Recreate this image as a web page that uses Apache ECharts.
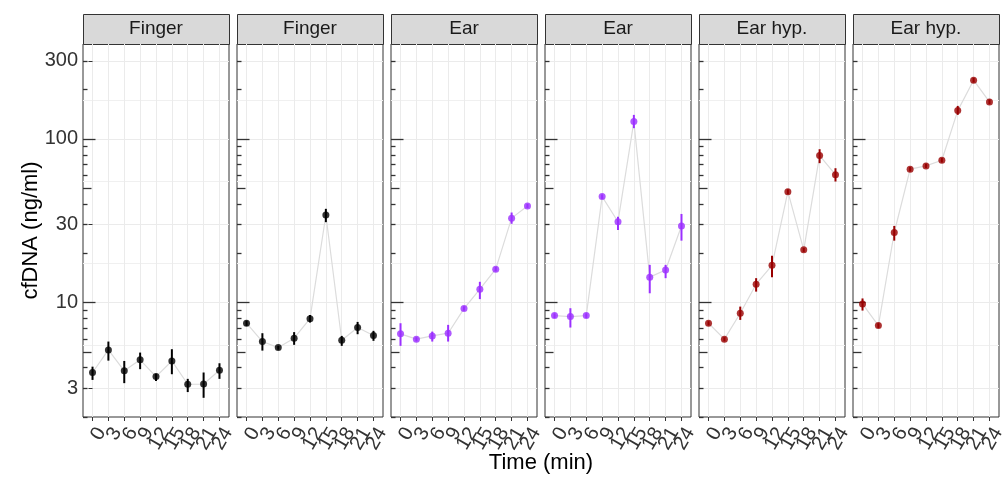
<!DOCTYPE html>
<html><head><meta charset="utf-8">
<script src="https://cdn.jsdelivr.net/npm/echarts@6/dist/echarts.min.js"></script>
<style>html,body{margin:0;padding:0;background:#fff}#c{width:1003px;height:478px}</style>
</head><body><div id="c"></div>
<script>
// ---------- data ----------
const times = [0, 3, 6, 9, 12, 15, 18, 21, 24];
const panelTitles = ['Finger', 'Finger', 'Ear', 'Ear', 'Ear hyp.', 'Ear hyp.'];
const panelColors = ['#000000', '#000000', '#9B30FF', '#9B30FF', '#990000', '#990000'];

const p1Mean = [3.74, 5.14, 3.83, 4.47, 3.53, 4.40, 3.17, 3.18, 3.86];
const p1Lo   = [3.37, 4.42, 3.22, 3.92, 3.32, 3.65, 2.84, 2.62, 3.42];
const p1Hi   = [4.06, 5.78, 4.40, 4.95, 3.67, 5.19, 3.42, 3.74, 4.26];

const p2Mean = [7.48, 5.78, 5.31, 6.06, 7.98, 34.3, 5.89, 7.04, 6.29];
const p2Lo   = [7.20, 5.09, 5.15, 5.52, 7.55, 31.0, 5.44, 6.41, 5.84];
const p2Hi   = [7.75, 6.50, 5.45, 6.60, 8.41, 37.4, 6.26, 7.62, 6.72];

const p3Mean = [6.44, 5.98, 6.26, 6.50, 9.19, 12.07, 16.0, 32.8, 38.96];
const p3Lo   = [5.44, 5.80, 5.78, 5.78, 8.90, 10.5, 15.5, 30.3, 37.8];
const p3Hi   = [7.48, 6.15, 6.65, 7.31, 9.50, 13.4, 16.5, 35.5, 40.1];

const p4Mean = [8.33, 8.21, 8.33, 44.4, 31.2, 127.6, 14.3, 15.8, 29.4];
const p4Lo   = [8.05, 7.04, 8.05, 43.0, 27.8, 116.3, 11.4, 14.1, 23.9];
const p4Hi   = [8.60, 9.24, 8.60, 45.8, 33.5, 140.2, 17.0, 17.0, 34.8];

const p5Mean = [7.48, 5.98, 8.61, 12.95, 16.9, 47.6, 21.0, 79.1, 60.5];
const p5Lo   = [7.25, 5.80, 7.84, 11.67, 14.3, 46.0, 20.4, 71.1, 54.9];
const p5Hi   = [7.70, 6.15, 9.45, 14.10, 19.3, 49.2, 21.6, 86.5, 66.2];

const p6Mean = [9.82, 7.24, 26.8, 65.3, 68.4, 74.1, 148.9, 228.4, 168.3];
const p6Lo   = [8.94, 7.00, 23.9, 63.3, 66.3, 71.8, 140.2, 221.0, 163.0];
const p6Hi   = [10.6, 7.48, 29.4, 67.3, 70.5, 76.4, 159.1, 236.0, 174.0];

const yTickLabels = [3, 10, 30, 100, 300];
const yMinorGrid = [5.477, 17.32, 54.77, 173.2];
const logShort = [2, 3, 4, 6, 7, 8, 9, 20, 30, 40, 60, 70, 80, 90, 200, 300];
const logMid = [5, 50];
const logLong = [10, 100];

const means = [p1Mean, p2Mean, p3Mean, p4Mean, p5Mean, p6Mean];
const los = [p1Lo, p2Lo, p3Lo, p4Lo, p5Lo, p6Lo];
const his = [p1Hi, p2Hi, p3Hi, p4Hi, p5Hi, p6Hi];

// ---------- layout ----------
const FONT = 'Liberation Sans, Arial, Helvetica, sans-serif';
const LEFT0 = 83, STEP = 154, PW = 146, PTOP = 44, PBOT = 417, STRIP_H = 30;
const Y_MIN = 2.0, Y_MAX = 380;
// split labels into two interleaved sets so ECharts does not drop overlapping rotated labels
const timesA = times.filter((t, k) => k % 2 === 0);
const timesB = times.filter((t, k) => k % 2 === 1);

const grids = [], xAxes = [], yAxes = [], series = [], graphics = [];
for (let i = 0; i < 6; i++) {
  const left = LEFT0 + STEP * i;
  grids.push({ left: left, top: PTOP, width: PW, height: PBOT - PTOP, show: true,
    outerBoundsMode: 'none', containLabel: false,
    borderColor: '#333333', borderWidth: 1, backgroundColor: '#ffffff' });
  const xl = { show: true, rotate: 60, fontSize: 20, color: '#333333', margin: 7, fontFamily: FONT,
    verticalAlign: 'top', align: 'right',
    showMinLabel: true, showMaxLabel: true, hideOverlap: false };
  xAxes.push({ type: 'value', gridIndex: i, min: -1.8, max: 25.8, position: 'bottom',
    axisLine: { show: false },
    axisTick: { show: true, customValues: times, length: 4, lineStyle: { color: '#333333', width: 1 } },
    axisLabel: Object.assign({ customValues: timesA }, xl),
    splitLine: { show: true, lineStyle: { color: '#ebebeb', width: 1 } } });
  xAxes.push({ type: 'value', gridIndex: i, min: -1.8, max: 25.8, position: 'bottom',
    axisLine: { show: false },
    axisTick: { show: false, customValues: timesB },
    axisLabel: Object.assign({ customValues: timesB }, xl),
    splitLine: { show: false } });
  const base = { type: 'log', logBase: 10, gridIndex: i, min: Y_MIN, max: Y_MAX, position: 'left', axisLine: { show: false } };
  // main axis: labels & major grid
  yAxes.push(Object.assign({}, base, {
    axisTick: { show: i === 0, customValues: yTickLabels, length: 4, lineStyle: { color: '#333333', width: 1 } },
    axisLabel: { show: i === 0, customValues: yTickLabels, fontSize: 20, color: '#333333', margin: 5, fontFamily: FONT,
      showMinLabel: true, showMaxLabel: true },
    splitLine: { show: true, lineStyle: { color: '#ebebeb', width: 1 } } }));
  // minor grid
  yAxes.push(Object.assign({}, base, {
    axisTick: { show: false, customValues: yMinorGrid },
    axisLabel: { show: false, customValues: yMinorGrid },
    splitLine: { show: true, lineStyle: { color: '#f0f0f0', width: 1 } } }));
  // annotation log ticks
  [[logShort, 4.5], [logMid, 8.5], [logLong, 12.5]].forEach(function (d) {
    yAxes.push(Object.assign({}, base, {
      axisTick: { show: true, inside: true, customValues: d[0], length: d[1], lineStyle: { color: '#333333', width: 1.3 } },
      axisLabel: { show: false, customValues: d[0] },
      splitLine: { show: false } }));
  });
  const xIdx = i * 2;
  const yIdx = i * 5;
  const col = panelColors[i];
  series.push({ type: 'line', xAxisIndex: xIdx, yAxisIndex: yIdx, showSymbol: false, silent: true,
    lineStyle: { color: '#dcdcdc', width: 1.2 }, z: 2,
    data: times.map((t, k) => [t, means[i][k]]) });
  series.push({ type: 'custom', xAxisIndex: xIdx, yAxisIndex: yIdx, z: 3, silent: true,
    encode: { x: 0, y: [1, 2] },
    data: times.map((t, k) => [t, los[i][k], his[i][k]]),
    renderItem: function (params, api) {
      const a = api.coord([api.value(0), api.value(1)]);
      const b = api.coord([api.value(0), api.value(2)]);
      return { type: 'line', shape: { x1: a[0], y1: a[1], x2: b[0], y2: b[1] },
        style: { stroke: col, lineWidth: 2 } };
    } });
  series.push({ type: 'scatter', xAxisIndex: xIdx, yAxisIndex: yIdx, z: 4, symbol: 'circle', symbolSize: 7,
    itemStyle: { color: col }, data: times.map((t, k) => [t, means[i][k]]) });
  // strip
  graphics.push({ type: 'rect', shape: { x: left + 0.5, y: PTOP - STRIP_H + 0.5, width: PW, height: STRIP_H },
    style: { fill: '#d9d9d9', stroke: '#333333', lineWidth: 1 } });
  graphics.push({ type: 'text', x: left + PW / 2, y: PTOP - STRIP_H / 2,
    style: { text: panelTitles[i], fill: '#1a1a1a', font: '19px ' + FONT, textAlign: 'center', textVerticalAlign: 'middle' } });
}
graphics.push({ type: 'text', x: (LEFT0 + LEFT0 + STEP * 5 + PW) / 2, y: 463,
  style: { text: 'Time (min)', fill: '#000000', font: '22px ' + FONT, textAlign: 'center', textVerticalAlign: 'middle' } });
graphics.push({ type: 'text', x: 31, y: (PTOP + PBOT) / 2, rotation: Math.PI / 2,
  style: { text: 'cfDNA (ng/ml)', fill: '#000000', font: '22px ' + FONT, textAlign: 'center', textVerticalAlign: 'middle' } });

const chart = echarts.init(document.getElementById('c'), null, { renderer: 'canvas' });
chart.setOption({
  animation: false,
  backgroundColor: '#ffffff',
  grid: grids, xAxis: xAxes, yAxis: yAxes, series: series, graphic: graphics
});
</script></body></html>
